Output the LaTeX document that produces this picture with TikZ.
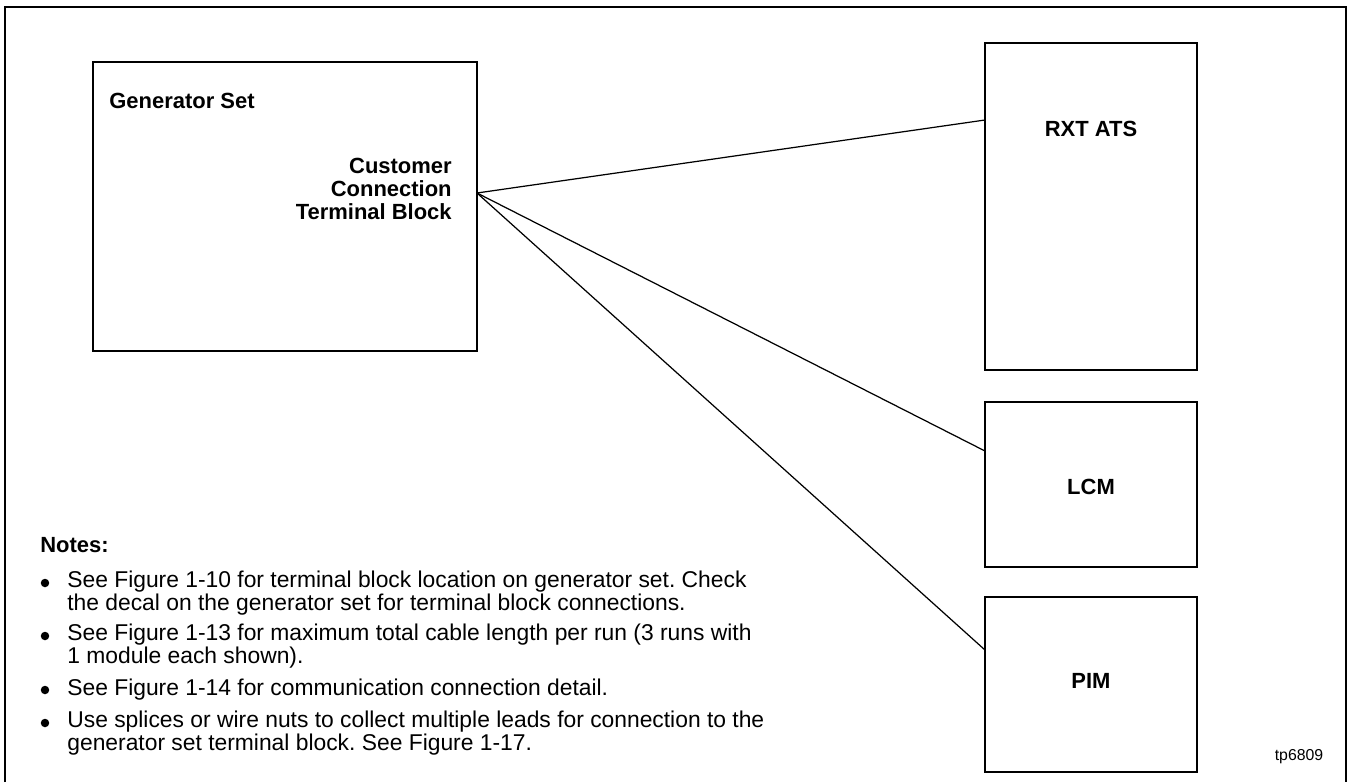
\documentclass[tikz,border=0pt]{standalone}
\usepackage{fontspec}
\setmainfont{Liberation Sans}
\usetikzlibrary{positioning}
\frenchspacing

\begin{document}
\begin{tikzpicture}[
			x=0.02cm, y=-0.02cm,
			frame/.style={draw, line width=1.3pt},
			unit/.style={draw, line width=0.9pt, anchor=north west, inner sep=0pt, outer sep=0pt, minimum width=4.24cm},
			wire/.style={draw, line width=0.7pt},
			title/.style={font=\fontsize{12.5}{13.1}\selectfont\bfseries, inner sep=0pt},
			note/.style={font=\fontsize{13}{11.6}\selectfont, align=left, anchor=west, inner sep=0pt},
			dot/.style={circle, fill, inner sep=0pt, minimum size=0.17cm}
			]
			
			\useasboundingbox (0,0) rectangle (1349,782);
			
			% Outer frame
			\draw[frame] (5,782) -- (5,7) -- (1346,7) -- (1346,782);
			
			% Generator set
			\node[unit, minimum width=7.68cm, minimum height=5.78cm] (genset) at (93,62) {};
			\node[title, anchor=west] (gentitle) at (109,101) {Generator Set};
			\node[title, align=right, anchor=east] (tblabel) at (452,189) {Customer\\Connection\\Terminal Block};
			\coordinate (tb) at (477,193);
			
			% Modules on the right
			\node[unit, minimum height=6.54cm] (rxt) at (985,43) {};
			\node[unit, minimum height=3.3cm] (lcm) at (985,402) {};
			\node[unit, minimum height=3.5cm] (pim) at (985,597) {};
			\node[title] (rxtlabel) at (1091,129) {RXT ATS};
			\node[title] (lcmlabel) at (1091,487) {LCM};
			\node[title] (pimlabel) at (1091,681) {PIM};
			
			% Wire ends on the modules
			\coordinate (rxtin) at (985,120);
			\coordinate (lcmin) at (985,451);
			\coordinate (pimin) at (985,650);
			
			% Wires
			\draw[wire] (tb) -- (rxtin);
			\draw[wire] (tb) -- (lcmin);
			\draw[wire] (tb) -- (pimin);
			
			% Notes
			\node[title, anchor=west] (notes) at (40,545) {Notes:};
			\node[dot] (dot1) at (45,583) {};
			\node[note] (note1) at (67,593) {See Figure 1-10 for terminal block location on generator set. Check\\the decal on the generator set for terminal block connections.};
			\node[dot] (dot2) at (45,636) {};
			\node[note] (note2) at (67,646) {See Figure 1-13 for maximum total cable length per run (3 runs with\\1 module each shown).};
			\node[dot] (dot3) at (45,690) {};
			\node[note] (note3) at (67,690) {See Figure 1-14 for communication connection detail.};
			\node[dot] (dot4) at (45,723) {};
			\node[note] (note4) at (67,733) {Use splices or wire nuts to collect multiple leads for connection to the\\generator set terminal block. See Figure 1-17.};
			
			% Drawing number
			\node[font=\fontsize{9}{10}\selectfont, inner sep=0pt] (tpno) at (1299,757) {tp6809};
			
		\end{tikzpicture}
\end{document}
